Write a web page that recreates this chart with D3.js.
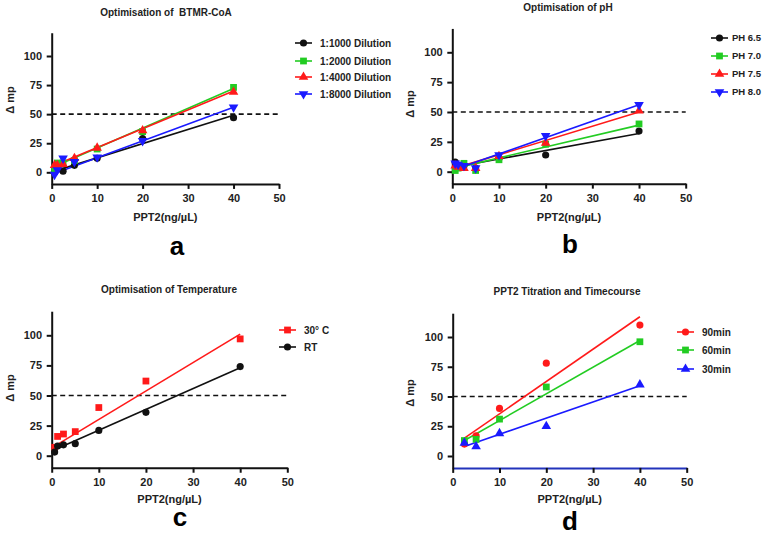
<!DOCTYPE html>
<html><head><meta charset="utf-8">
<script src="https://cdn.jsdelivr.net/npm/d3@7"></script>
<style>
body{margin:0;background:#fff;}
text{font-family:"Liberation Sans",Arial,sans-serif;}
</style></head>
<body>
<svg id="chart" width="762" height="533"></svg>
<script>
// ---------- DATA ----------
const xFull = [0.625, 1.25, 2.5, 5, 10, 20, 40];
const xShort = [2.5, 5, 10, 20, 40];
const xTicks = [0, 10, 20, 30, 40, 50];
const yTicks = [0, 25, 50, 75, 100];
const thresholdValue = 50;

// Panel a: Optimisation of BTMR-CoA
const aNames = ["1:1000 Dilution", "1:2000 Dilution", "1:4000 Dilution", "1:8000 Dilution"];
const a1000 = [0, 3, 1, 6, 12, 29, 47];
const a2000 = [3, 8, 8, 10, 20, 35, 73];
const a4000 = [6, 6, 7, 12, 21, 36, 69];
const a8000 = [-2, 2, 12, 9, 13, 27, 56];
const aFits = [[1, 49], [5, 72], [6, 70], [-1, 56]];

// Panel b: Optimisation of pH
const bNames = ["PH 6.5", "PH 7.0", "PH 7.5", "PH 8.0"];
const bPH65 = [8, 5, 5, 3, 11, 14, 34];
const bPH70 = [1, 3, 7, 1, 10, 23, 40];
const bPH75 = [5, 4, 3, 3, 13, 24, 51];
const bPH80 = [7, 6, 5, 3, 14, 30, 56];
const bFits = [[4, 32], [3, 39], [3, 50], [2, 56]];

// Panel c: Optimisation of Temperature
const cNames = ["30\u00B0 C", "RT"];
const c30 = [7, 16, 18, 20, 40, 62, 97];
const cRT = [3, 8, 9, 10, 21, 36, 74];
const cFits = [[8, 101], [5, 73]];

// Panel d: PPT2 Titration and Timecourse
const dNames = ["90min", "60min", "30min"];
const d90 = [10, 17, 40, 78, 110];
const d60 = [13, 14, 31, 58, 96];
const d30 = [11, 8, 19, 25, 60];
const dFits = [[15, 117], [13, 97], [8, 59]];

// ---------- STYLE / LAYOUT ----------
const RED = "#ff1a1a", GREEN = "#22cc22", BLUE = "#1a1aff", BLACK = "#111";

const panels = [
  { title: "Optimisation of  BTMR-CoA", letter: "a", x: xFull,
    series: [a1000, a2000, a4000, a8000], names: aNames, fits: aFits,
    colors: [BLACK, GREEN, RED, BLUE], shapes: ["circle", "square", "triangle", "down"],
    xr: [51.7, 279], y0: 172.3, y100: 56, titleX: 166, titleY: 16,
    legX: 295, legOff: 25, legFont: 10, legY: [43, 61, 77, 94], ytX: 14, ytY: 100, xtY: 221, letX: 177, letY: 255, xAxisColor: "#111" },
  { title: "Optimisation of pH", letter: "b", x: xFull,
    series: [bPH65, bPH70, bPH75, bPH80], names: bNames, fits: bFits,
    colors: [BLACK, GREEN, RED, BLUE], shapes: ["circle", "square", "triangle", "down"],
    xr: [452.3, 685.7], y0: 171.7, y100: 52.3, titleX: 568, titleY: 11,
    legX: 711, legOff: 21, legFont: 9.5, legY: [38, 56, 74, 92], ytX: 414, ytY: 104, xtY: 221, letX: 570, letY: 253, xAxisColor: "#111" },
  { title: "Optimisation of Temperature", letter: "c", x: xFull,
    series: [c30, cRT], names: cNames, fits: cFits,
    colors: [RED, BLACK], shapes: ["square", "circle"],
    xr: [51.7, 287.3], y0: 455.7, y100: 335.3, titleX: 169, titleY: 293,
    legX: 279, legOff: 25, legFont: 10, legY: [330, 347], ytX: 14, ytY: 388, xtY: 503, letX: 180, letY: 526, xAxisColor: "#111" },
  { title: "PPT2 Titration and Timecourse", letter: "d", x: xShort,
    series: [d90, d60, d30], names: dNames, fits: dFits,
    colors: [RED, GREEN, BLUE], shapes: ["circle", "square", "triangle"],
    xr: [452.7, 686.7], y0: 456, y100: 337, titleX: 567, titleY: 295,
    legX: 677, legOff: 25, legFont: 10, legY: [332, 350, 369], ytX: 414, ytY: 393, xtY: 503, letX: 570, letY: 530, xAxisColor: "#2233bb" }
];

const svg = d3.select("#chart");

function drawMarker(g, shape, color, x, y) {
  let sym;
  if (shape === "circle") sym = d3.symbol(d3.symbolCircle, 40);
  else if (shape === "square") sym = d3.symbol(d3.symbolSquare, 46);
  else sym = d3.symbol(d3.symbolTriangle, 40);
  return g.append("path").attr("d", sym()).attr("fill", color)
    .attr("transform", `translate(${x},${y})` + (shape === "down" ? " rotate(180)" : ""));
}

panels.forEach(P => {
  const unit = (P.y0 - P.y100) / 100;
  const x = d3.scaleLinear().domain([0, 50]).range(P.xr);
  const y = d3.scaleLinear().domain([-10, 120]).range([P.y0 + 10 * unit, P.y0 - 120 * unit]);
  const g = svg.append("g");

  // axes
  const xAxis = g.append("g").attr("transform", `translate(0,${y(-10)})`)
    .call(d3.axisBottom(x).tickValues(xTicks).tickSize(5).tickSizeOuter(0));
  const yAxis = g.append("g").attr("transform", `translate(${x(0)},0)`)
    .call(d3.axisLeft(y).tickValues(yTicks).tickSize(5).tickSizeOuter(0));
  [xAxis, yAxis].forEach(a => {
    a.select(".domain").attr("stroke", "#111").attr("stroke-width", 2);
    a.selectAll(".tick line").attr("stroke", "#111").attr("stroke-width", 2);
    a.selectAll(".tick text").attr("fill", "#222").attr("font-size", 11)
      .attr("font-weight", "bold").attr("font-family", "'Liberation Sans',Arial,sans-serif");
  });
  xAxis.select(".domain").attr("stroke", P.xAxisColor);
  xAxis.selectAll(".tick text").attr("dy", "0.9em");
  yAxis.selectAll(".tick text").attr("dx", "-0.15em");

  // threshold dashed line
  g.append("line").attr("x1", x(0)).attr("x2", x(50))
    .attr("y1", y(thresholdValue)).attr("y2", y(thresholdValue))
    .attr("stroke", "#111").attr("stroke-width", 1.6).attr("stroke-dasharray", "5,3.5");

  // fit lines
  const xmin = d3.min(P.x), xmax = d3.max(P.x);
  P.fits.forEach((f, i) => {
    g.append("line").attr("x1", x(xmin)).attr("y1", y(f[0]))
      .attr("x2", x(xmax)).attr("y2", y(f[1]))
      .attr("stroke", P.colors[i]).attr("stroke-width", 1.6);
  });

  // points
  P.series.forEach((s, i) => {
    s.forEach((v, j) => drawMarker(g, P.shapes[i], P.colors[i], x(P.x[j]), y(v)));
  });

  // title
  g.append("text").attr("x", P.titleX).attr("y", P.titleY).attr("text-anchor", "middle")
    .style("white-space", "pre")
    .attr("font-size", 10).attr("font-weight", "bold").attr("fill", "#222").text(P.title);

  // axis titles
  g.append("text").attr("x", (P.xr[0] + P.xr[1]) / 2).attr("y", P.xtY).attr("text-anchor", "middle")
    .attr("font-size", 11).attr("font-weight", "bold").attr("fill", "#222").text("PPT2(ng/\u00B5L)");
  g.append("text").attr("transform", `translate(${P.ytX},${P.ytY}) rotate(-90)`)
    .attr("text-anchor", "middle").attr("font-size", 11).attr("font-weight", "bold")
    .attr("fill", "#222").text("\u0394 mp");

  // legend
  P.names.forEach((n, i) => {
    const ly = P.legY[i];
    g.append("line").attr("x1", P.legX).attr("x2", P.legX + 17).attr("y1", ly).attr("y2", ly)
      .attr("stroke", P.colors[i]).attr("stroke-width", 1.6);
    drawMarker(g, P.shapes[i], P.colors[i], P.legX + 8.5, ly);
    g.append("text").attr("x", P.legX + P.legOff).attr("y", ly).attr("dy", "0.35em")
      .attr("font-size", P.legFont).attr("font-weight", "bold").attr("fill", "#222").text(n);
  });

  // panel letter
  g.append("text").attr("x", P.letX).attr("y", P.letY).attr("text-anchor", "middle")
    .attr("font-size", 26).attr("font-weight", "bold").attr("fill", "#000").text(P.letter);
});
</script>
</body></html>
